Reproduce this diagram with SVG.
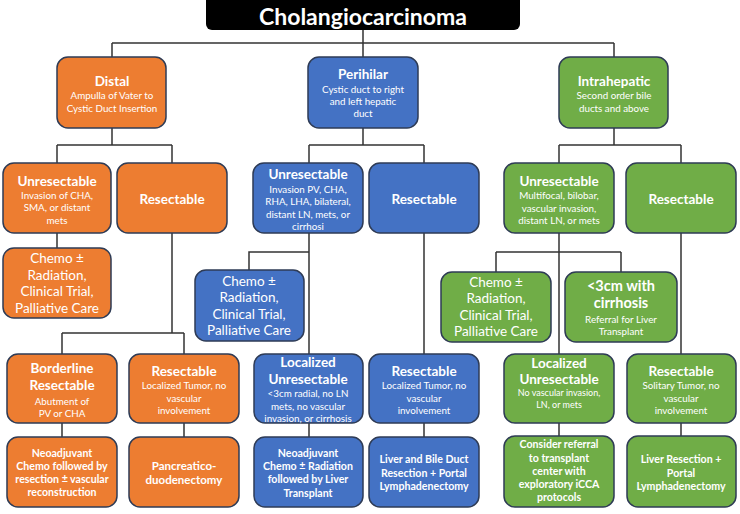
<svg xmlns="http://www.w3.org/2000/svg" width="740" height="514" viewBox="0 0 740 514">
<style>
text{font-family:Lato,"Open Sans","Liberation Sans",sans-serif;fill:#fff;text-anchor:middle}
.box{stroke:#2E3B55;stroke-width:1.5}
.o{fill:#ED7D31}.b{fill:#4472C4}.g{fill:#70AD47}
.t{font-weight:bold;font-size:13.5px}
.s{font-size:9.8px}
.c{font-size:13.5px}
.f{font-weight:bold;font-size:10.6px}
.con path{fill:none;stroke:#333;stroke-width:1.5}
</style>
<rect width="740" height="514" fill="#fff"/>
<g class="con">
<path d="M363 30V43M112 43H614M112 43V57M363 43V57M614 43V57"/>
<path d="M112 128V145M57 145H172M57 145V163M172 145V163"/>
<path d="M363 128V145M309 145H424M309 145V163M424 145V163"/>
<path d="M614 128V145M559 145H681M559 145V163M681 145V163"/>
<path d="M57 233V248M172 233V333M62 333H184M62 333V354M184 333V354"/>
<path d="M309 233V354M309 252H249V270M424 233V354"/>
<path d="M559 233V354M496 252H621M496 252V272M621 252V272M681 233V354"/>
<path d="M62 423V437M184 423V437M309 423V437M424 423V437M559 423V437M681 423V437"/>
</g>
<g id="title"><rect x="206" y="-6" width="314" height="36" rx="6" fill="#000"/><text x="363" y="25" style="font-weight:bold;font-size:23px">Cholangiocarcinoma</text></g>
<g id="distal"><rect class="box o" x="57" y="57" width="109" height="71" rx="11"/><text class="t" x="112" y="86">Distal</text><text class="s" x="112" y="99">Ampulla of Vater to</text><text class="s" x="112" y="112">Cystic Duct Insertion</text></g>
<g id="perihilar"><rect class="box b" x="308" y="57" width="110" height="71" rx="11"/><text class="t" x="363" y="79">Perihilar</text><text class="s" x="363" y="93">Cystic duct to right</text><text class="s" x="363" y="105">and left hepatic</text><text class="s" x="363" y="117">duct</text></g>
<g id="intrahepatic"><rect class="box g" x="559" y="57" width="109" height="71" rx="11"/><text class="t" x="614" y="86">Intrahepatic</text><text class="s" x="614" y="99">Second order bile</text><text class="s" x="614" y="112">ducts and above</text></g>
<g id="d-unres"><rect class="box o" x="3" y="163" width="108" height="70" rx="11"/><text class="t" x="57" y="186">Unresectable</text><text class="s" x="57" y="199">Invasion of CHA,</text><text class="s" x="57" y="211">SMA, or distant</text><text class="s" x="57" y="224">mets</text></g>
<g id="d-res"><rect class="box o" x="117" y="163" width="110" height="70" rx="11"/><text class="t" x="172" y="204">Resectable</text></g>
<g id="p-unres"><rect class="box b" x="253" y="163" width="110" height="70" rx="11"/><text class="t" x="308" y="179">Unresectable</text><text class="s" x="308" y="193">Invasion PV, CHA,</text><text class="s" x="308" y="205">RHA, LHA, bilateral,</text><text class="s" x="308" y="218">distant LN, mets, or</text><text class="s" x="308" y="230">cirrhosi</text></g>
<g id="p-res"><rect class="box b" x="369" y="163" width="110" height="70" rx="11"/><text class="t" x="424" y="204">Resectable</text></g>
<g id="i-unres"><rect class="box g" x="504" y="163" width="110" height="70" rx="11"/><text class="t" x="559" y="186">Unresectable</text><text class="s" x="559" y="199">Multifocal, bilobar,</text><text class="s" x="559" y="212">vascular invasion,</text><text class="s" x="559" y="224">distant LN, or mets</text></g>
<g id="i-res"><rect class="box g" x="626" y="163" width="110" height="70" rx="11"/><text class="t" x="681" y="204">Resectable</text></g>
<g id="d-chemo"><rect class="box o" x="3" y="248" width="108" height="70" rx="11"/><text class="c" x="57" y="263">Chemo ±</text><text class="c" x="57" y="280">Radiation,</text><text class="c" x="57" y="296">Clinical Trial,</text><text class="c" x="57" y="313">Palliative Care</text></g>
<g id="p-chemo"><rect class="box b" x="195" y="270" width="109" height="71" rx="11"/><text class="c" x="249" y="286">Chemo ±</text><text class="c" x="249" y="302">Radiation,</text><text class="c" x="249" y="319">Clinical Trial,</text><text class="c" x="249" y="335">Palliative Care</text></g>
<g id="i-chemo"><rect class="box g" x="441" y="272" width="110" height="70" rx="11"/><text class="c" x="496" y="287">Chemo ±</text><text class="c" x="496" y="303">Radiation,</text><text class="c" x="496" y="320">Clinical Trial,</text><text class="c" x="496" y="336">Palliative Care</text></g>
<g id="i-cirr"><rect class="box g" x="565" y="272" width="112" height="70" rx="11"/><text class="t" x="621" y="291" style="font-size:14.5px">&lt;3cm with</text><text class="t" x="621" y="308" style="font-size:14.5px">cirrhosis</text><text class="s" x="621" y="323">Referral for Liver</text><text class="s" x="621" y="335">Transplant</text></g>
<g id="d-border"><rect class="box o" x="7" y="354" width="110" height="69" rx="11"/><text class="t" x="62" y="373">Borderline</text><text class="t" x="62" y="390">Resectable</text><text class="s" x="62" y="405">Abutment of</text><text class="s" x="62" y="417">PV or CHA</text></g>
<g id="d-res2"><rect class="box o" x="129" y="354" width="110" height="69" rx="11"/><text class="t" x="184" y="376">Resectable</text><text class="s" x="184" y="389">Localized Tumor, no</text><text class="s" x="184" y="402">vascular</text><text class="s" x="184" y="414">involvement</text></g>
<g id="p-local"><rect class="box b" x="254" y="354" width="109" height="69" rx="11"/><text class="t" x="308" y="367">Localized</text><text class="t" x="308" y="384">Unresectable</text><text class="s" x="308" y="397">&lt;3cm radial, no LN</text><text class="s" x="308" y="410">mets, no vascular</text><text class="s" x="308" y="422">invasion, or cirrhosis</text></g>
<g id="p-res2"><rect class="box b" x="369" y="354" width="110" height="69" rx="11"/><text class="t" x="424" y="376">Resectable</text><text class="s" x="424" y="389">Localized Tumor, no</text><text class="s" x="424" y="402">vascular</text><text class="s" x="424" y="414">involvement</text></g>
<g id="i-local"><rect class="box g" x="504" y="354" width="110" height="69" rx="11"/><text class="t" x="559" y="368">Localized</text><text class="t" x="559" y="384">Unresectable</text><text class="s" x="559" y="396" style="font-size:9px">No vascular invasion,</text><text class="s" x="559" y="408" style="font-size:9px">LN, or mets</text></g>
<g id="i-res2"><rect class="box g" x="627" y="354" width="109" height="69" rx="11"/><text class="t" x="681" y="376">Resectable</text><text class="s" x="681" y="389">Solitary Tumor, no</text><text class="s" x="681" y="402">vascular</text><text class="s" x="681" y="414">involvement</text></g>
<g id="d-neo"><rect class="box o" x="7" y="437" width="110" height="70" rx="11"/><text class="f" x="62" y="457">Neoadjuvant</text><text class="f" x="62" y="470">Chemo followed by</text><text class="f" x="62" y="483">resection ± vascular</text><text class="f" x="62" y="496">reconstruction</text></g>
<g id="d-pd"><rect class="box o" x="129" y="437" width="110" height="70" rx="11"/><text class="f" x="184" y="470" style="font-size:11.5px">Pancreatico-</text><text class="f" x="184" y="484" style="font-size:11.5px">duodenectomy</text></g>
<g id="p-neo"><rect class="box b" x="254" y="437" width="109" height="70" rx="11"/><text class="f" x="308" y="457">Neoadjuvant</text><text class="f" x="308" y="470">Chemo ± Radiation</text><text class="f" x="308" y="483">followed by Liver</text><text class="f" x="308" y="497">Transplant</text></g>
<g id="p-lbd"><rect class="box b" x="369" y="437" width="110" height="70" rx="11"/><text class="f" x="424" y="463">Liver and Bile Duct</text><text class="f" x="424" y="477">Resection + Portal</text><text class="f" x="424" y="490">Lymphadenectomy</text></g>
<g id="i-cons"><rect class="box g" x="504" y="436" width="110" height="71" rx="11"/><text class="f" x="559" y="448">Consider referral</text><text class="f" x="559" y="462">to transplant</text><text class="f" x="559" y="475">center with</text><text class="f" x="559" y="488">exploratory iCCA</text><text class="f" x="559" y="501">protocols</text></g>
<g id="i-lr"><rect class="box g" x="627" y="436" width="109" height="71" rx="11"/><text class="f" x="681" y="463">Liver Resection +</text><text class="f" x="681" y="477">Portal</text><text class="f" x="681" y="490">Lymphadenectomy</text></g>
</svg>
